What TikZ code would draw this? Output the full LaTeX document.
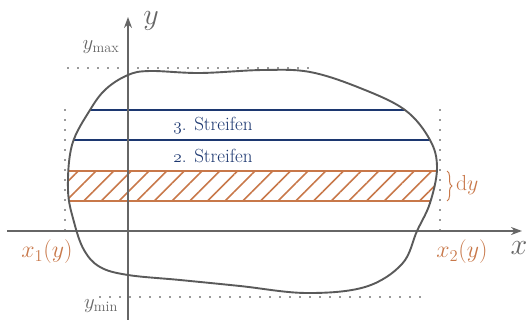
\documentclass[tikz,border=0pt]{standalone}
\usepackage{graphicx}
\usepackage{fontspec}
\usetikzlibrary{arrows.meta,patterns.meta,decorations.pathreplacing}
\definecolor{axisgray}{HTML}{666666}
\definecolor{curvegray}{HTML}{5A5A5A}
\definecolor{navy}{HTML}{1C3770}
\definecolor{rust}{HTML}{C8784A}
\definecolor{dotgray}{HTML}{333333}
\begin{document}
\begin{tikzpicture}[x=1pt,y=-1pt,
  axis/.style={draw=axisgray,line width=2.6pt,-{Stealth[length=11pt,width=8pt]}},
  boundary/.style={draw=curvegray,line width=1.9pt},
  dotline/.style={draw=dotgray,line width=1.6pt,line cap=round,dash pattern=on 0pt off 10pt},
  strip/.style={draw=navy,line width=1.9pt},
  hatchstrip/.style={draw=rust,line width=1.9pt,pattern={Lines[angle=45,distance=12.5pt,line width=1.6pt]},pattern color=rust},
  lbl/.style={inner sep=0pt,outer sep=0pt},
  stext/.style={lbl,text=navy,font=\fontsize{19}{22}\selectfont},
  rlbl/.style={lbl,text=rust,font=\fontsize{20.74}{24}\selectfont},
  glbl/.style={lbl,text=axisgray,font=\fontsize{20.74}{25}\selectfont}
]
\useasboundingbox (0,0) rectangle (526,320);
\def\regionpts{(128,75) (150,71) (200,73) (263,70) (310,72) (360,88) (405,110) (430,140) (437,168) (430,203) (417,231) (402,264) (365,287) (306,293) (240,286) (180,280) (128,275) (100,267) (84,250) (74,222) (68,190) (72,145) (90,110) (106,89)}

% coordinates
\coordinate (tl) at (68,68);   \coordinate (tr) at (310,68);
\coordinate (bl) at (100,297); \coordinate (br) at (430,297);
\coordinate (lt) at (65,110);  \coordinate (lb) at (65,236);
\coordinate (rt) at (440,110); \coordinate (rb) at (440,236);
\coordinate (xs) at (7,231);   \coordinate (xe) at (522,231);
\coordinate (ys) at (128,320); \coordinate (ye) at (128,17);

% dotted guides
\draw[dotline] (tl) -- (tr);
\draw[dotline] (bl) -- (br);
\draw[dotline] (lt) -- (lb);
\draw[dotline] (rt) -- (rb);

% strips clipped to region
\begin{scope}
  \clip plot[smooth cycle,tension=0.6] coordinates {\regionpts};
  \path[hatchstrip] (50,171) rectangle (460,201);
  \draw[strip] (50,110) -- (460,110);
  \draw[strip] (50,140) -- (460,140);
\end{scope}

% axes
\draw[axis] (xs) -- (xe);
\draw[axis] (ys) -- (ye);

% boundary
\draw[boundary] plot[smooth cycle,tension=0.6] coordinates {\regionpts};

% brace
\coordinate (bt) at (447,171); \coordinate (bb) at (447,201);
\draw[draw=rust,line width=1pt,decorate,decoration={brace,amplitude=5pt}] (bt) -- (bb);

% labels
\node[glbl] (ylab) at (151,21) {\scalebox{1.45}{$y$}};
\node[glbl] (xlab) at (519,248) {\scalebox{1.45}{$x$}};
\node[glbl] (ymax) at (101,47) {$y_{\max}$};
\node[glbl] (ymin) at (101,306) {$y_{\min}$};
\node[rlbl] (x1) at (47,252) {\scalebox{1.15}{$x_1(y)$}};
\node[rlbl] (x2) at (462,252) {\scalebox{1.15}{$x_2(y)$}};
\node[rlbl,anchor=west] (dy) at (456,185) {\scalebox{1.05}{$\mathrm{d}y$}};
\node[stext] (s3) at (213,126) {$\mathnormal{3}$. Streifen};
\node[stext] (s2) at (213,156) {$\mathnormal{2}$. Streifen};
\end{tikzpicture}
\end{document}
